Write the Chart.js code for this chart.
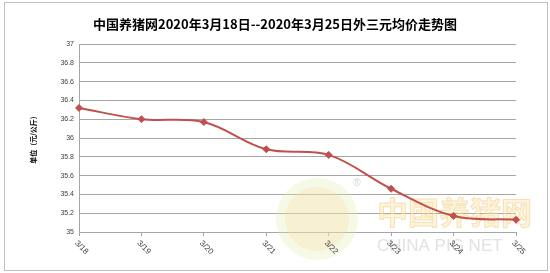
<!DOCTYPE html>
<html>
<head>
<meta charset="utf-8">
<script src="https://cdn.jsdelivr.net/npm/chart.js@4/dist/chart.umd.min.js"></script>
<style>
  html, body { margin: 0; padding: 0; background: #fff; }
  #wrap { width: 550px; height: 273px; position: relative; }
</style>
</head>
<body>
<div id="wrap"><canvas id="myChart"></canvas></div>
<script>
(() => {
    const titleText = "中国养猪网2020年3月18日--2020年3月25日外三元均价走势图";
    const yTitle = "单位（元/公斤）";

    const dates = ["3/18", "3/19", "3/20", "3/21", "3/22", "3/23", "3/24", "3/25"];
    const prices = [36.32, 36.2, 36.17, 35.88, 35.82, 35.46, 35.17, 35.13];

    const yMin = 35;
    const yMax = 37;
    const yStep = 0.2;

    const lineColor = "#C0504D";
    const gridColor = "#A6A6A6";

    // frame, title and the faint logo watermark
    const decorPlugin = {
        id: "decor",
        beforeDraw(chart) {
            const { ctx } = chart;
            ctx.save();
            ctx.fillStyle = "#fff";
            ctx.fillRect(0, 0, chart.width, chart.height);
            ctx.strokeStyle = "#BFBFBF";
            ctx.lineWidth = 1;
            ctx.strokeRect(4.5, 2.5, 543, 268);
            ctx.fillStyle = "#000";
            ctx.font = "bold 13px 'Noto Sans CJK SC'";
            ctx.textAlign = "center";
            ctx.textBaseline = "middle";
            ctx.fillText(titleText, 275, 24);
            ctx.restore();
        },
        beforeDatasetsDraw(chart) {
            const { ctx } = chart;
            ctx.save();
            // round pig logo
            ctx.beginPath();
            ctx.arc(317, 219, 41, 0, Math.PI * 2);
            ctx.fillStyle = "rgba(225, 235, 170, 0.3)";
            ctx.fill();
            ctx.beginPath();
            ctx.arc(317, 219, 32, 0, Math.PI * 2);
            ctx.fillStyle = "rgba(250, 220, 165, 0.3)";
            ctx.fill();
            ctx.fillStyle = "rgba(170, 170, 170, 0.5)";
            ctx.font = "10px 'Liberation Sans'";
            ctx.textAlign = "center";
            ctx.textBaseline = "middle";
            ctx.fillText("®", 357, 183);
            // chinese name
            ctx.font = "bold 31px 'Noto Sans CJK SC'";
            ctx.textAlign = "left";
            ctx.fillStyle = "rgba(250, 232, 170, 0.45)";
            ctx.strokeStyle = "rgba(240, 190, 120, 0.45)";
            ctx.lineWidth = 1;
            ctx.fillText("中国养猪网", 377, 212, 164);
            ctx.strokeText("中国养猪网", 377, 212, 164);
            // english name
            ctx.font = "17px 'Liberation Sans'";
            ctx.fillStyle = "rgba(200, 200, 200, 0.55)";
            ctx.fillText("CHINA PIG NET", 377, 246, 164);
            ctx.restore();
        },
        afterDraw(chart) {
            // category labels turned 45 degrees clockwise
            const { ctx } = chart;
            const xScale = chart.scales.x;
            ctx.save();
            ctx.fillStyle = "#404040";
            ctx.font = "8px 'Liberation Sans'";
            ctx.textAlign = "left";
            ctx.textBaseline = "middle";
            dates.forEach((label, i) => {
                const px = xScale.getPixelForTick(i);
                ctx.save();
                ctx.translate(px - 3, xScale.top + 10);
                ctx.rotate(Math.PI / 4);
                ctx.fillText(label, 0, 0);
                ctx.restore();
            });
            ctx.restore();
        },
    };

    const initChart = () => {
        const ctx = document.getElementById("myChart").getContext("2d");

        new Chart(ctx, {
            type: "line",
            data: {
                labels: dates,
                datasets: [
                    {
                        label: "外三元均价",
                        data: prices,
                        borderColor: lineColor,
                        backgroundColor: lineColor,
                        borderWidth: 2,
                        tension: 0.35,
                        pointStyle: "rectRot",
                        pointRadius: 3.5,
                        pointHoverRadius: 3.5,
                        pointBackgroundColor: lineColor,
                        pointBorderColor: lineColor,
                        pointBorderWidth: 1,
                    },
                ],
            },
            options: {
                responsive: true,
                maintainAspectRatio: false,
                animation: false,
                layout: {
                    padding: { top: 44, right: 34, bottom: 0, left: 0 },
                },
                plugins: {
                    legend: { display: false },
                    title: { display: false },
                    tooltip: { enabled: false },
                },
                scales: {
                    x: {
                        offset: false,
                        afterFit: (scale) => {
                            scale.height = 41;
                        },
                        ticks: { display: false },
                        grid: {
                            drawOnChartArea: false,
                            drawTicks: true,
                            tickLength: 4,
                            color: gridColor,
                        },
                        border: { display: true, color: gridColor },
                    },
                    y: {
                        min: yMin,
                        max: yMax,
                        afterFit: (scale) => {
                            scale.width = 79;
                        },
                        ticks: {
                            stepSize: yStep,
                            padding: 5,
                            color: "#404040",
                            font: { family: "'Liberation Sans'", size: 7 },
                            callback: (value) => String(Number(value.toFixed(1))),
                        },
                        grid: {
                            color: gridColor,
                            drawTicks: false,
                        },
                        border: { display: true, color: gridColor },
                        title: {
                            display: true,
                            text: yTitle,
                            color: "#000",
                            font: { family: "'Noto Sans CJK SC'", size: 7, weight: "bold" },
                            padding: { top: 29, bottom: 0 },
                        },
                    },
                },
            },
            plugins: [decorPlugin],
        });
    };

    document.addEventListener("DOMContentLoaded", initChart);
})();
</script>
</body>
</html>
